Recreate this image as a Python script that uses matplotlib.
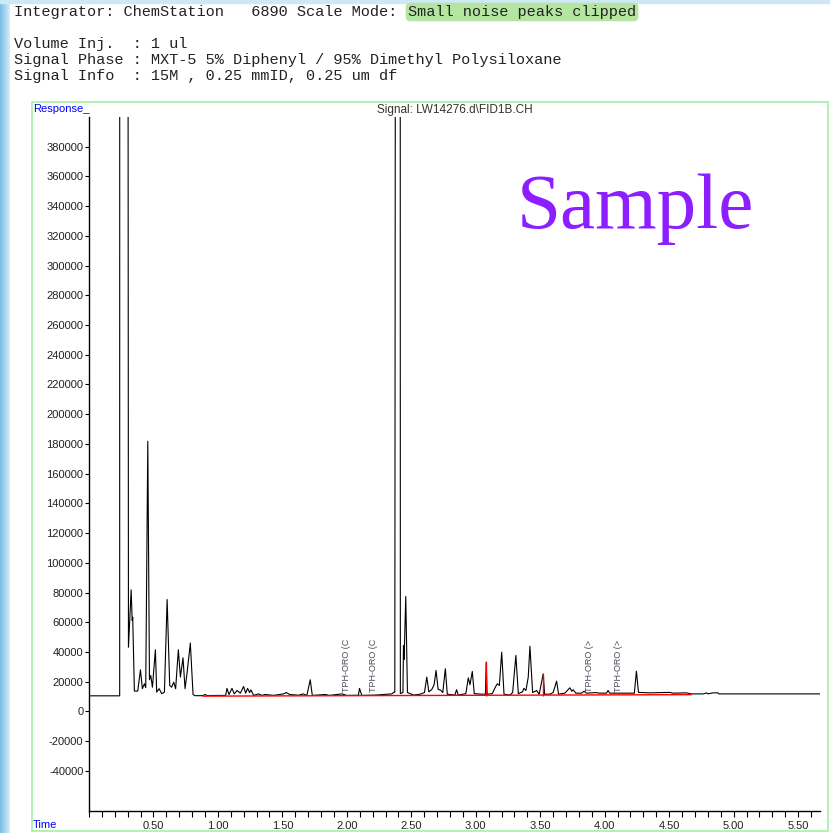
import matplotlib
matplotlib.use("Agg")
import matplotlib.pyplot as plt
import matplotlib.patches as patches
from matplotlib.ticker import MultipleLocator, FixedLocator
import numpy as np

plt.rcParams['font.family'] = ['Liberation Sans', 'DejaVu Sans']

# chromatogram trace (time in min, response); 1500000 = off-scale (clipped)
trace_time = [0.000, 0.238, 0.239, 0.295, 0.306, 0.327, 0.335, 0.339, 0.352, 0.378,
              0.399, 0.414, 0.430, 0.440, 0.456, 0.469, 0.479, 0.492, 0.515, 0.525,
              0.544, 0.564, 0.585, 0.606, 0.626, 0.641, 0.657, 0.672, 0.693, 0.709,
              0.729, 0.745, 0.760, 0.786, 0.807, 0.823, 0.880, 0.902, 0.915, 1.060,
              1.070, 1.086, 1.109, 1.127, 1.148, 1.174, 1.199, 1.215, 1.230, 1.246,
              1.256, 1.277, 1.315, 1.341, 1.367, 1.432, 1.509, 1.530, 1.556, 1.626,
              1.659, 1.690, 1.716, 1.732, 1.832, 1.865, 1.961, 2.000, 2.090, 2.098,
              2.116, 2.220, 2.348, 2.367, 2.372, 2.386, 2.412, 2.415, 2.435, 2.439,
              2.444, 2.457, 2.470, 2.491, 2.517, 2.568, 2.602, 2.620, 2.636, 2.659,
              2.677, 2.692, 2.708, 2.728, 2.744, 2.764, 2.779, 2.838, 2.851, 2.864,
              2.923, 2.942, 2.955, 2.973, 2.988, 3.045, 3.075, 3.081, 3.088, 3.128,
              3.149, 3.167, 3.183, 3.201, 3.219, 3.265, 3.286, 3.311, 3.330, 3.363,
              3.373, 3.389, 3.407, 3.420, 3.441, 3.472, 3.492, 3.523, 3.534, 3.575,
              3.600, 3.627, 3.642, 3.691, 3.730, 3.745, 3.755, 3.776, 3.820, 3.840,
              3.858, 3.936, 3.952, 4.014, 4.026, 4.039, 4.230, 4.246, 4.262, 4.350,
              4.504, 4.530, 4.634, 4.670, 4.766, 4.789, 4.800, 4.840, 4.878, 4.886,
              5.670]
trace_resp = [10500, 10500, 1500000, 1500000, 43200, 81800, 61200, 63400, 13700, 13700,
              28000, 15300, 18600, 16000, 181800, 21300, 24200, 16300, 41500, 13000,
              15300, 11900, 13000, 75300, 17500, 16300, 19700, 15300, 41500, 23100,
              36100, 15300, 25300, 46000, 11400, 10600, 10600, 11400, 10700, 10800,
              15500, 11400, 15500, 11800, 14100, 12300, 16800, 12300, 15500, 12700,
              14500, 10800, 11800, 10800, 11400, 10800, 11800, 12700, 11400, 10900,
              11800, 10800, 21300, 10800, 11400, 10800, 11800, 10800, 10900, 15500,
              10800, 11000, 11800, 13000, 13000, 1500000, 1500000, 12000, 12700, 44400,
              35000, 77300, 12700, 12000, 11000, 11600, 12700, 23100, 13200, 14800,
              18000, 27600, 14800, 14300, 12700, 28700, 11600, 11000, 14600, 11000,
              12000, 22600, 18000, 26900, 12000, 11600, 11600, 33200, 11600, 12000,
              15900, 18600, 17500, 39900, 11600, 11000, 12700, 37700, 12000, 13200,
              15500, 14100, 23100, 43900, 12700, 14100, 11600, 25300, 11600, 11600,
              12700, 20400, 11600, 12300, 15900, 13600, 14600, 12300, 12300, 13600,
              12300, 12700, 12300, 12300, 14100, 12300, 12300, 27100, 12800, 12500,
              12800, 12300, 12500, 11800, 11800, 12500, 11800, 12500, 12500, 11800,
              11800]

# integration baseline and event marks (red)
baseline_time = [0.885, 4.670]
baseline_resp = [10300, 11300]
event_time = [3.081, 3.523]
event_resp = [33200, 25300]

# compound window labels
label_time = [2.00, 2.21, 3.88, 4.11]
label_text = ["TPH-ORO (C", "TPH-ORO (C", "TPH-ORO (>", "TPH-ORO (>"]

y_ticks = list(range(-40000, 380001, 20000))
x_major = [0.5, 1.0, 1.5, 2.0, 2.5, 3.0, 3.5, 4.0, 4.5, 5.0, 5.5]

W, H = 830, 833


def px(x, y):
    # pixel (from top-left) -> figure fraction
    return x / W, 1 - y / H


fig = plt.figure(figsize=(W / 100, H / 100), dpi=100, facecolor='white')

# blue window edge on the left / top
strip = fig.add_axes([0, 0, 9 / W, 1])
strip.imshow(np.linspace(0, 1, 20).reshape(1, -1), aspect='auto',
             cmap=matplotlib.colors.LinearSegmentedColormap.from_list('b', ['#79bde6', '#d6ecf8']))
strip.axis('off')
top = fig.add_axes([0, 1 - 3 / H, 1, 3 / H])
top.set_facecolor('#cfe8f6')
top.axis('off')
fig.patches.append(patches.Rectangle((0, 1 - 3 / H), 1, 3 / H, transform=fig.transFigure,
                                     color='#cfe8f6', zorder=0))

# header lines
mono = dict(family=['Liberation Mono', 'DejaVu Sans Mono'], fontsize=11, color='#222222', va='center')
fig.text(*px(14, 12), "Integrator: ChemStation   6890 Scale Mode: ", **mono)
fig.text(*px(408, 12), "Small noise peaks clipped",
         bbox=dict(boxstyle='round,pad=0.15,rounding_size=0.3', fc='#b4e6a2', ec='none'), **mono)
fig.text(*px(14, 44), "Volume Inj.  : 1 ul", **mono)
fig.text(*px(14, 60), "Signal Phase : MXT-5 5% Diphenyl / 95% Dimethyl Polysiloxane", **mono)
fig.text(*px(14, 76), "Signal Info  : 15M , 0.25 mmID, 0.25 um df", **mono)

# green plot frame
x0, y0 = px(32, 831)
x1, y1 = px(828, 102)
fig.patches.append(patches.Rectangle((x0, y0), x1 - x0, y1 - y0, transform=fig.transFigure,
                                     fill=False, ec='#a6f0a6', lw=1.2))

ax = fig.add_axes([89 / W, 1 - 811 / H, (820 - 89) / W, (811 - 117) / H])
ax.plot(trace_time, trace_resp, color='black', lw=0.8)
ax.plot(baseline_time, baseline_resp, color='red', lw=1.0)
ax.vlines(event_time, baseline_resp[0], event_resp, color='red', lw=1.0)

for t, s in zip(label_time, label_text):
    ax.text(t, 12800, s, rotation=90, ha='center', va='bottom', fontsize=6.5, color='#4a4a58')

ax.set_xlim(0, 5.67)
ax.set_ylim(-67000, 400000)
ax.set_yticks(y_ticks)
ax.set_yticklabels([str(v) for v in y_ticks])
ax.xaxis.set_major_locator(FixedLocator(x_major))
ax.xaxis.set_minor_locator(MultipleLocator(0.1))
ax.set_xticklabels(["%.2f" % v for v in x_major])

for side in ['top', 'right']:
    ax.spines[side].set_visible(False)
for side in ['left', 'bottom']:
    ax.spines[side].set_linewidth(1.0)
ax.tick_params(axis='y', direction='out', length=3, width=0.8, pad=1, labelsize=8, labelcolor='#222222')
ax.tick_params(axis='x', which='both', direction='out', length=4, width=0.8, pad=3,
               labelsize=8, labelcolor='#222222')

fig.text(*px(455, 110), r"Signal: LW14276.d\FID1B.CH", ha='center', va='center',
         fontsize=8.5, color='#333333')
fig.text(*px(33, 109), "Response_", ha='left', va='center', fontsize=8, color='#0000ff')
fig.text(*px(33, 825), "Time", ha='left', va='center', fontsize=8, color='#0000ff')
fig.text(*px(517, 228), "Sample", ha='left', va='baseline', fontsize=57,
         family=['Liberation Serif', 'DejaVu Serif'], color='#8c1eff')

fig.savefig("out.png", dpi=100, facecolor='white')
